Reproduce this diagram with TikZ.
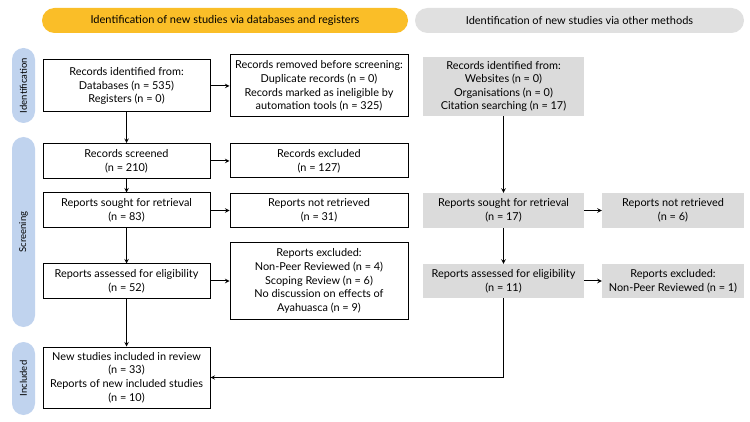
\documentclass[tikz,border=0pt]{standalone}
\usepackage{fontspec}
\setmainfont{Lato}
\usetikzlibrary{shapes.geometric, arrows, positioning, calc}

\definecolor{headyellow}{RGB}{250,190,40}
\definecolor{headgray}{RGB}{224,224,224}
\definecolor{boxgray}{RGB}{219,219,219}
\definecolor{phaseblue}{RGB}{192,211,238}

\begin{document}
\begin{tikzpicture}[
    x=1pt, y=-1pt,
    font=\fontsize{10.9}{13.6}\selectfont,
    header/.style={rectangle, rounded corners=12.5pt, minimum height=25pt, font=\fontsize{11}{13}\selectfont},
    phase/.style={rectangle, rounded corners=11.5pt, fill=phaseblue, minimum height=23pt, rotate=90, font=\fontsize{9.5}{11}\selectfont},
    record/.style={rectangle, draw, line width=1pt, align=center, inner sep=2pt},
    other/.style={rectangle, fill=boxgray, align=center, inner sep=2pt},
    arrow/.style={line width=1pt,->,>=stealth}
]
\useasboundingbox (0,0) rectangle (750,422);

% Headers
\node[header, fill=headyellow, minimum width=366pt] (dbhead) at (225,20.5) {Identification of new studies via databases and registers};
\node[header, fill=headgray, minimum width=329pt] (otherhead) at (579.5,20.5) {Identification of new studies via other methods};

% Phases
\node[phase, minimum width=75pt] (identification) at (23.5,85.5) {Identification};
\node[phase, minimum width=190pt] (screening) at (23.5,232) {Screening};
\node[phase, minimum width=73pt] (included) at (23.5,378.5) {Included};

% Databases and registers
\node[record, minimum width=167pt, minimum height=52pt] (identified) at (126.5,86) {Records identified from:\\Databases (n = 535)\\Registers (n = 0)};
\node[record, minimum width=178pt, minimum height=62pt] (removed) at (319,86) {Records removed before screening:\\Duplicate records (n = 0)\\Records marked as ineligible by\\automation tools (n = 325)};
\node[record, minimum width=167pt, minimum height=35pt] (screened) at (126.5,161) {Records screened\\(n = 210)};
\node[record, minimum width=178pt, minimum height=34pt] (excluded) at (319,161) {Records excluded\\(n = 127)};
\node[record, minimum width=167pt, minimum height=35pt] (sought) at (126.5,210.5) {Reports sought for retrieval\\(n = 83)};
\node[record, minimum width=178pt, minimum height=34pt] (notretrieved) at (319,210.5) {Reports not retrieved\\(n = 31)};
\node[record, minimum width=167pt, minimum height=34pt] (assessed) at (126.5,281) {Reports assessed for eligibility\\(n = 52)};
\node[record, minimum width=178pt, minimum height=77pt] (reportsexcl) at (319,281) {Reports excluded:\\Non-Peer Reviewed (n = 4)\\Scoping Review (n = 6)\\No discussion on effects of\\Ayahuasca (n = 9)};
\node[record, minimum width=167pt, minimum height=61pt] (newstudies) at (126.5,377.5) {New studies included in review\\(n = 33)\\Reports of new included studies\\(n = 10)};

% Other methods
\node[other, minimum width=161pt, minimum height=59pt] (otherid) at (503.5,86.5) {Records identified from:\\Websites (n = 0)\\Organisations (n = 0)\\Citation searching (n = 17)};
\node[other, minimum width=161pt, minimum height=35pt] (othersought) at (503.5,210.5) {Reports sought for retrieval\\(n = 17)};
\node[other, minimum width=142pt, minimum height=35pt] (othernot) at (673,210.5) {Reports not retrieved\\(n = 6)};
\node[other, minimum width=161pt, minimum height=34pt] (otherassessed) at (503.5,281) {Reports assessed for eligibility\\(n = 11)};
\node[other, minimum width=142pt, minimum height=34pt] (otherexcl) at (673,281) {Reports excluded:\\Non-Peer Reviewed (n = 1)};

% Arrows
\draw[arrow] (identified) -- (removed);
\draw[arrow] (identified) -- (screened);
\draw[arrow] (screened) -- (excluded);
\draw[arrow] (screened) -- (sought);
\draw[arrow] (sought) -- (notretrieved);
\draw[arrow] (sought) -- (assessed);
\draw[arrow] (assessed) -- (reportsexcl);
\draw[arrow] (assessed) -- (newstudies);
\draw[arrow] (otherid) -- (othersought);
\draw[arrow] (othersought) -- (othernot);
\draw[arrow] (othersought) -- (otherassessed);
\draw[arrow] (otherassessed) -- (otherexcl);
\draw[arrow] (otherassessed) |- (newstudies);

\end{tikzpicture}
\end{document}
